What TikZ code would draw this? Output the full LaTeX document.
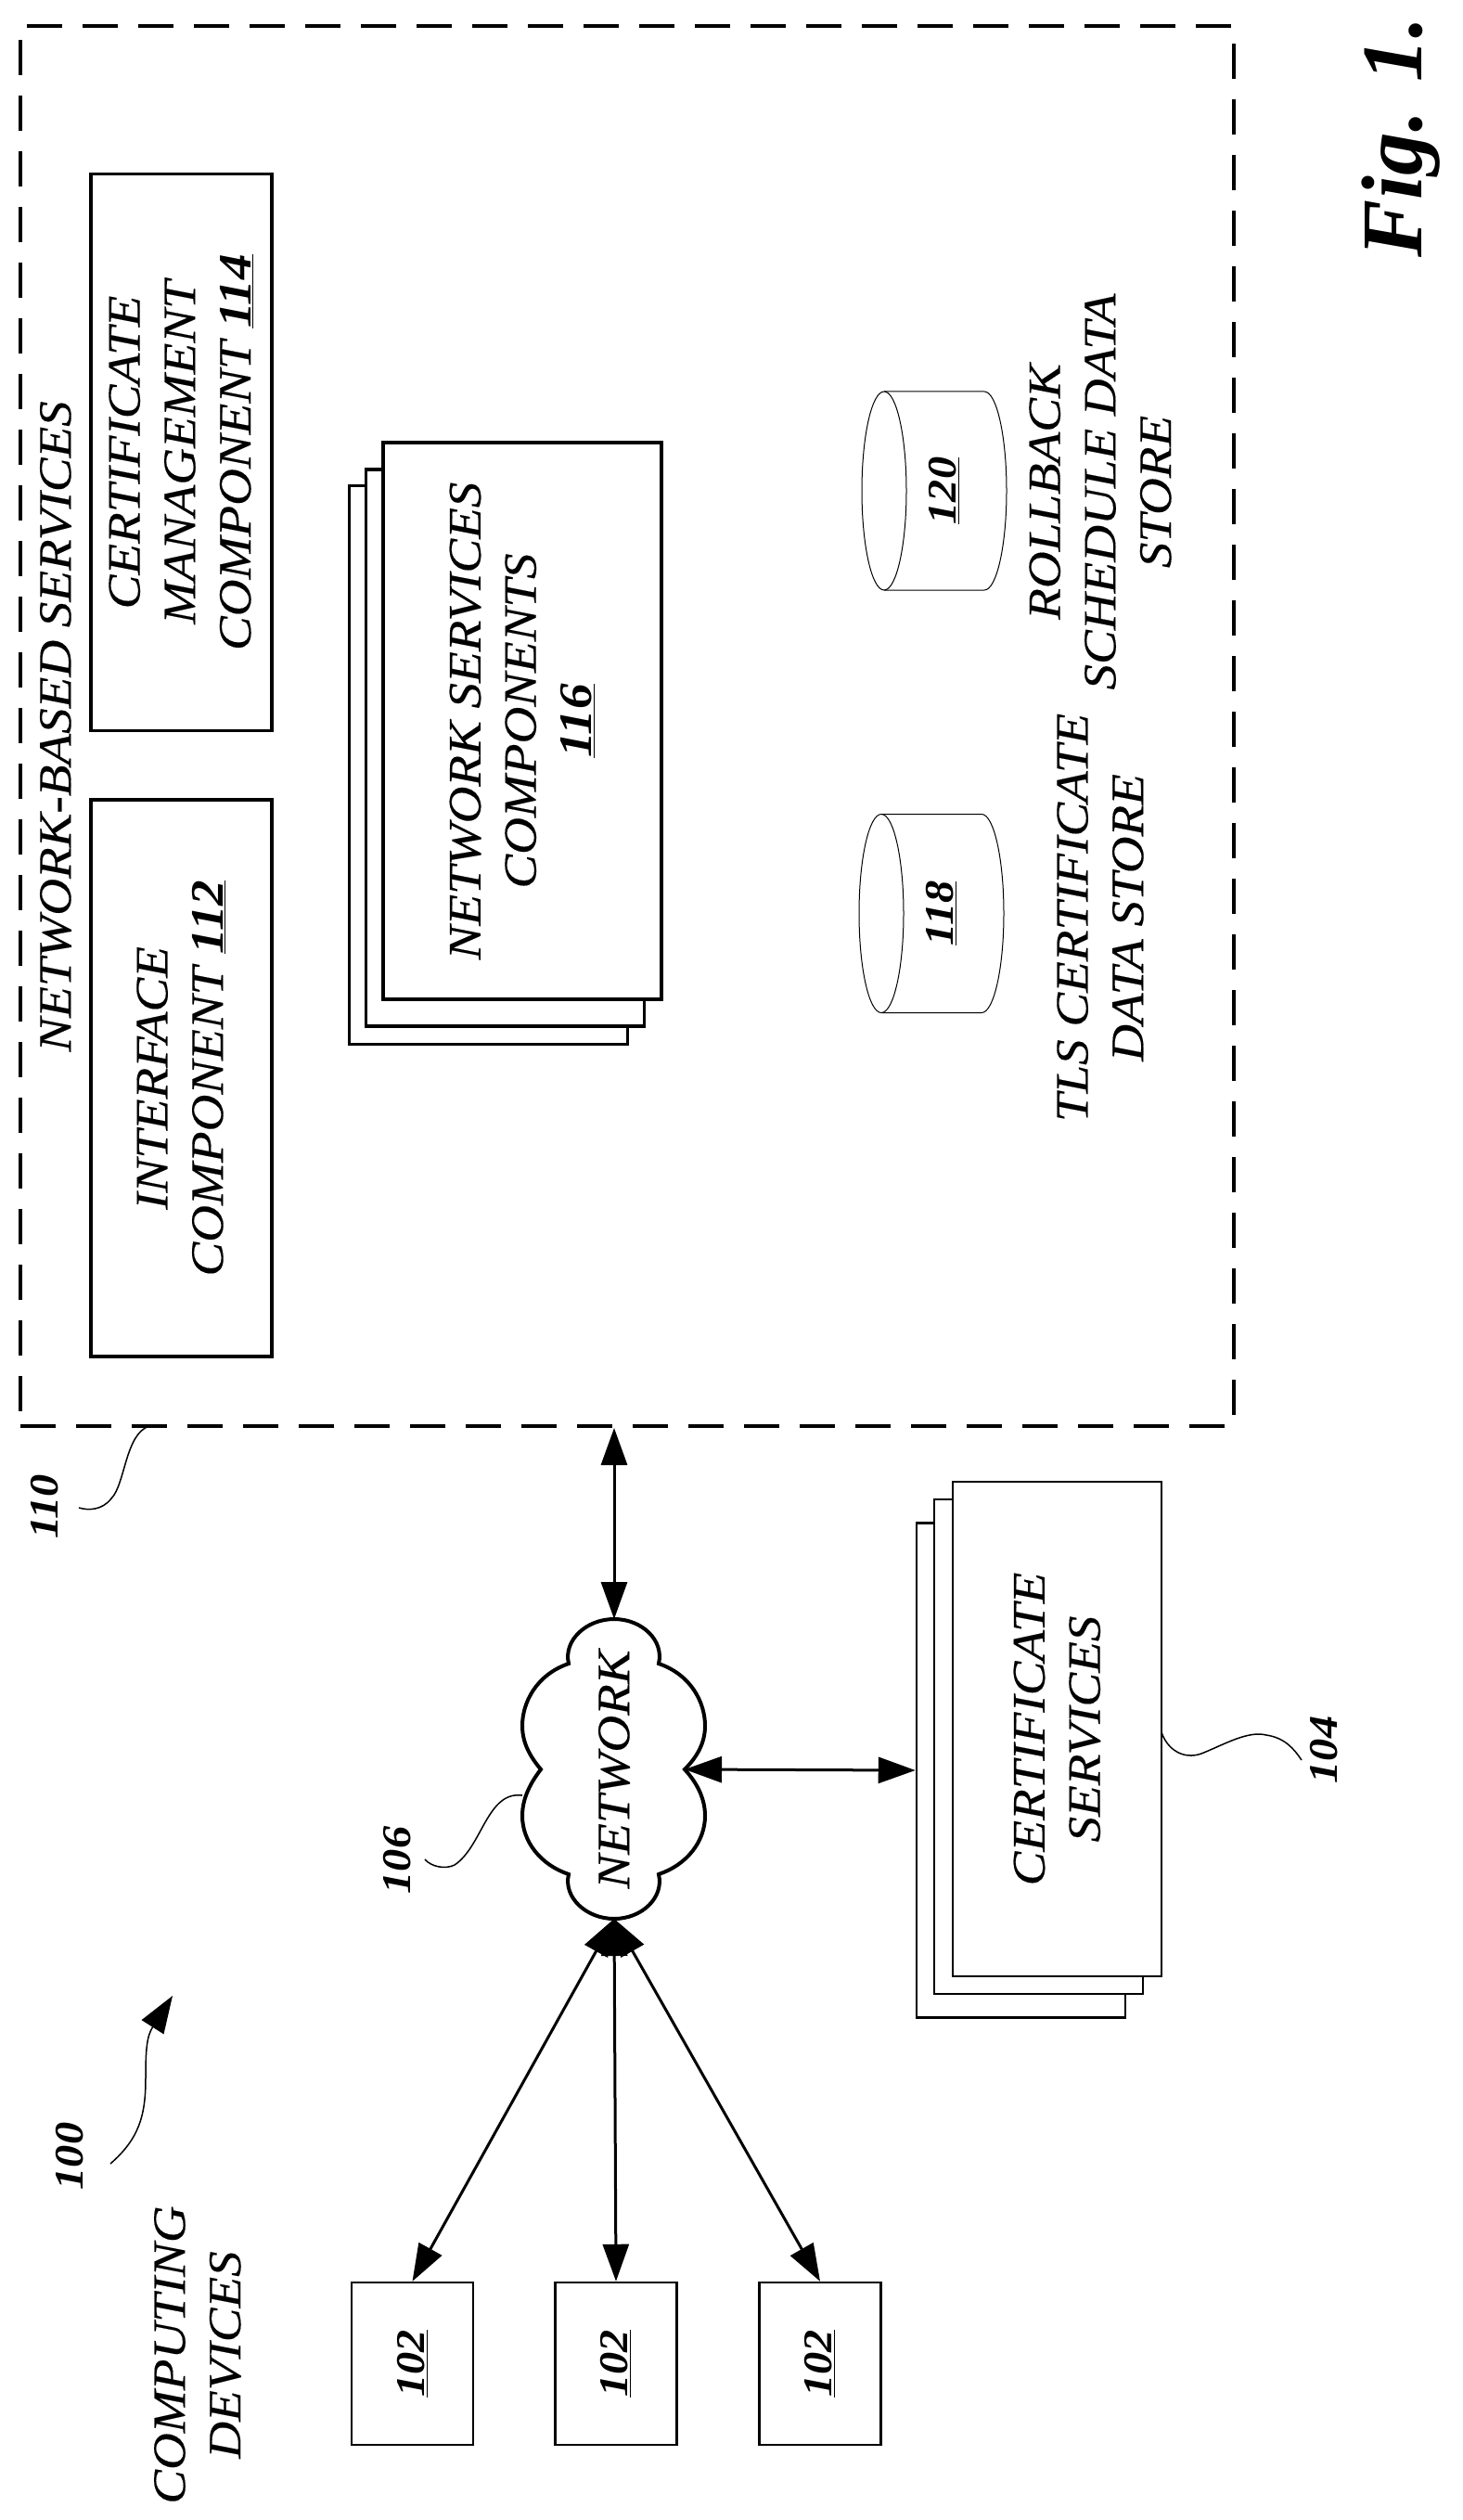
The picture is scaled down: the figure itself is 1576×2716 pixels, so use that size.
\documentclass[tikz,border=0pt]{standalone}
\usepackage{fontspec}
\setmainfont{Liberation Serif}[FakeStretch=1.1,ItalicFeatures={FakeBold=0.25}]
\newfontfamily\figfont{Liberation Serif}
\usetikzlibrary{arrows.meta}

\tikzset{
	labeltext/.style={font=\fontsize{28.5}{34}\selectfont\itshape,align=center,inner sep=0pt},
	numtext/.style={font=\fontsize{25}{34}\selectfont\bfseries\itshape,inner sep=0pt},
	compbox/.style={draw,fill=white,line width=0.75mm,rotate=90,inner sep=0pt,minimum width=120mm,minimum height=39mm,labeltext},
	stackbox/.style={draw,fill=white,line width=0.75mm,rotate=90,inner sep=0pt,minimum width=120mm,minimum height=60mm,labeltext},
	certbox/.style={draw,fill=white,line width=0.5mm,rotate=90,inner sep=0pt,minimum width=106.6mm,minimum height=45mm,labeltext},
	devbox/.style={draw,fill=white,line width=0.5mm,rotate=90,inner sep=0pt,minimum width=35mm,minimum height=26.2mm,numtext},
	biarrow/.style={line width=0.6mm,{Triangle[length=8mm,width=5.6mm]}-{Triangle[length=8mm,width=5.6mm]}},
	leader/.style={line width=0.3mm}
}

\begin{document}
\begin{tikzpicture}[x=0.2mm,y=-0.2mm]
		\useasboundingbox (0,0) rectangle (1576,2716);

		% The outer frame
		\node[draw,line width=0.8mm,dash pattern=on 7.6mm off 4.4mm,inner sep=0pt,minimum width=261.6mm,minimum height=301.8mm] (services) at (676,782.5) {};
		\node[labeltext,rotate=90] (servicestext) at (60,783) {NETWORK-BASED SERVICES};

		% The components
		\node[compbox] (interface) at (195.5,1162) {INTERFACE\\COMPONENT \textbf{\underline{112}}};
		\node[compbox] (certmgmt) at (195.5,487.5) {CERTIFICATE\\MANAGEMENT\\COMPONENT \textbf{\underline{114}}};

		\node[stackbox,minimum width=120.2mm,line width=0.6mm] (netback) at (526,824.5) {};
		\node[stackbox,minimum width=120mm] (netmid) at (544.5,806) {};
		\node[stackbox] (netfront) at (563,777) {NETWORK SERVICES\\COMPONENTS\\\textbf{\underline{116}}};

		% The data stores
		\foreach \name/\xpos/\ypos/\num in {tlsstore/950/984.5/118,rollstore/953/529/120}
		{
			\draw[line width=0.2mm] (\xpos,\ypos-107) -- ++(108,0) arc (-90:90:24 and 107) -- ++(-108,0);
			\draw[line width=0.2mm] (\xpos,\ypos) ellipse (24 and 107);
			\node[numtext,rotate=90] (\name) at (\xpos+65,\ypos) {\underline{\num}};
		}
		\node[labeltext,rotate=90] (tlstext) at (1186,989) {TLS CERTIFICATE\\DATA STORE};
		\node[labeltext,rotate=90] (rolltext) at (1186,530) {ROLLBACK\\SCHEDULE DATA\\STORE};

		% The cloud
		\coordinate (cloudtop) at (662,1745);
		\coordinate (cloudright) at (738,1907);
		\coordinate (cloudbot) at (662,2068);
		\coordinate (cloudleft) at (583,1907);
		\draw[line width=0.8mm,fill=white] (cloudtop) .. controls (692,1745) and (716,1768) .. (710,1793)
			.. controls (745,1805) and (760,1835) .. (760,1860) .. controls (760,1880) and (750,1895) .. (cloudright)
			.. controls (750,1920) and (760,1937) .. (760,1957) .. controls (760,1985) and (740,2010) .. (710,2020)
			.. controls (716,2045) and (692,2068) .. (cloudbot) .. controls (632,2068) and (607,2045) .. (613,2020)
			.. controls (583,2010) and (563,1985) .. (563,1957) .. controls (563,1937) and (573,1920) .. (cloudleft)
			.. controls (573,1895) and (563,1880) .. (563,1860) .. controls (563,1835) and (578,1805) .. (613,1793)
			.. controls (607,1768) and (632,1745) .. (cloudtop) -- cycle;
		\node[labeltext,rotate=90] (network) at (662,1907) {NETWORK};

		% The certificate services
		\node[certbox] (certback) at (1100.5,1908) {};
		\node[certbox] (certmid) at (1119.5,1882.5) {};
		\node[certbox] (certfront) at (1139.5,1863.5) {CERTIFICATE\\SERVICES};

		% The computing devices
		\node[labeltext,rotate=90] (devtext) at (213,2538) {COMPUTING\\DEVICES};
		\foreach \name/\xpos in {devone/444.5,devtwo/664,devthree/884}
			\node[devbox] (\name) at (\xpos,2547.5) {\underline{102}};

		% The connectors
		\draw[biarrow] (cloudtop |- services.south) -- (cloudtop);
		\draw[biarrow] (cloudright) -- (certback.north);
		\foreach \name in {devone,devtwo,devthree}
			\draw[biarrow] (cloudbot) -- (\name.east);

		% The reference numerals
		\node[numtext,rotate=90] (numsystem) at (75,2324) {100};
		\node[numtext,rotate=90] (numcert) at (1427,1886) {104};
		\node[numtext,rotate=90] (numcloud) at (428,2005) {106};
		\node[numtext,rotate=90] (numservices) at (48,1624) {110};
		\coordinate (leadsystem) at (119,2332);
		\coordinate (tipsystem) at (186,2151);
		\coordinate (leadcert) at (1403,1897);
		\coordinate (leadcloud) at (458,2004);
		\coordinate (leadservices) at (85,1625);
		\draw[leader,-{Triangle[length=8mm,width=5.6mm]}] (leadsystem) .. controls (150,2305) and (157,2280) .. (157,2240) .. controls (157,2210) and (158,2195) .. (tipsystem);
		\draw[leader] (1252,1867) .. controls (1258,1885) and (1275,1897) .. (1295,1890) .. controls (1320,1880) and (1345,1865) .. (1365,1870) .. controls (1385,1873) and (1395,1885) .. (leadcert);
		\draw[leader] (563,1935) .. controls (525,1930) and (520,1990) .. (490,2010) .. controls (480,2015) and (465,2012) .. (leadcloud);
		\draw[leader] (161,1537) .. controls (135,1545) and (135,1600) .. (120,1615) .. controls (110,1628) and (95,1628) .. (leadservices);

		\node[font=\fontsize{53}{60}\selectfont\figfont\bfseries\itshape,inner sep=0pt,rotate=90] (figlabel) at (1510,148) {Fig. 1.};
\end{tikzpicture}
\end{document}
